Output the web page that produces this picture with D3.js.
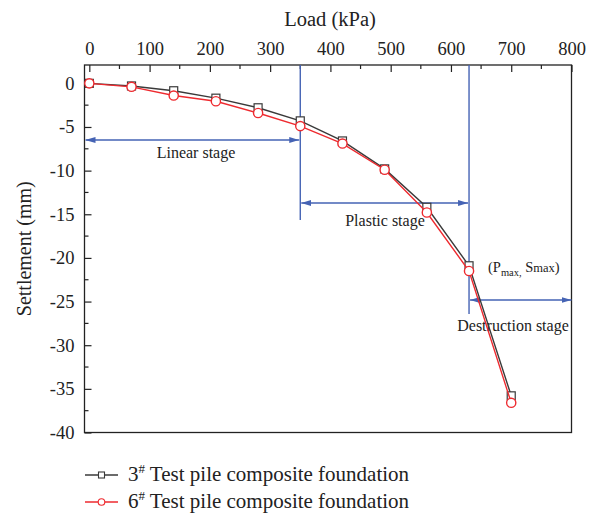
<!DOCTYPE html>
<html>
<head>
<meta charset="utf-8">
<script src="https://cdn.jsdelivr.net/npm/d3@7"></script>
<style>
  html, body { margin: 0; padding: 0; background: #fff; }
  svg { display: block; }
  text { font-family: "Liberation Serif", "DejaVu Serif", serif; fill: #222; }
</style>
</head>
<body>
<svg id="chart" width="597" height="514"></svg>
<script>
// Load steps (kPa) and measured settlement (mm) for the two test piles
const loads = [0, 70, 140, 210, 280, 350, 420, 490, 560, 630, 700];
const pile3 = [0, -0.3, -0.85, -1.7, -2.8, -4.3, -6.6, -9.8, -14.2, -20.9, -35.8];
const pile6 = [0, -0.4, -1.4, -2.05, -3.4, -4.9, -6.9, -9.9, -14.8, -21.5, -36.6];
const xTicks = [0, 100, 200, 300, 400, 500, 600, 700, 800];
const yTicks = [0, -5, -10, -15, -20, -25, -30, -35, -40];
const seriesNames = ["Test pile composite foundation", "Test pile composite foundation"];
const seriesIds = ["3", "6"];
// Stage boundaries (kPa)
const linearEnd = 350;
const plasticEnd = 630;
const stageLabels = ["Linear stage", "Plastic stage", "Destruction stage"];

const svg = d3.select("#chart");
const pLeft = 84.5, pRight = 571.5, pTop = 65, pBottom = 432.5;

const x = d3.scaleLinear().domain([-8, 800]).range([pLeft, pRight]);
const y = d3.scaleLinear().domain([-40, 2.1]).range([pBottom, pTop]);

const blue = "#4563b4";
const red = "#ee2a2f";
const dark = "#3a3a3a";

// arrowhead marker
const defs = svg.append("defs");
defs.append("marker")
  .attr("id", "arrow")
  .attr("viewBox", "0 0 10 6")
  .attr("refX", 10).attr("refY", 3)
  .attr("markerWidth", 10).attr("markerHeight", 6)
  .attr("markerUnits", "userSpaceOnUse")
  .attr("orient", "auto-start-reverse")
  .append("path").attr("d", "M0,0 L10,3 L0,6 Z").attr("fill", blue);

// frame
svg.append("rect")
  .attr("x", pLeft).attr("y", pTop)
  .attr("width", pRight - pLeft).attr("height", pBottom - pTop)
  .attr("fill", "none").attr("stroke", "#222").attr("stroke-width", 1.3);

// plain hyphen for negatives
const fmt = d => String(d);

// top axis, ticks pointing inward
const xAxis = d3.axisTop(x).tickValues(xTicks).tickSize(-7).tickPadding(10).tickFormat(fmt);
const gx = svg.append("g").attr("transform", `translate(0,${pTop})`).call(xAxis);
gx.select(".domain").remove();
gx.selectAll(".tick line").attr("stroke", "#222").attr("stroke-width", 1.2);
gx.selectAll(".tick text").attr("font-size", 18.5).attr("font-family", "Liberation Serif").attr("fill", "#222").attr("dy", "0");
const xMinor = d3.range(50, 800, 100);
svg.append("g").selectAll("line").data(xMinor).join("line")
  .attr("x1", d => x(d)).attr("x2", d => x(d))
  .attr("y1", pTop).attr("y2", pTop + 4)
  .attr("stroke", "#222").attr("stroke-width", 1.2);

// left axis, ticks pointing inward
const yAxis = d3.axisLeft(y).tickValues(yTicks).tickSize(-7).tickPadding(10).tickFormat(fmt);
const gy = svg.append("g").attr("transform", `translate(${pLeft},0)`).call(yAxis);
gy.select(".domain").remove();
gy.selectAll(".tick line").attr("stroke", "#222").attr("stroke-width", 1.2);
gy.selectAll(".tick text").attr("font-size", 18.5).attr("font-family", "Liberation Serif").attr("fill", "#222");
const yMinor = d3.range(-37.5, 0, 5);
svg.append("g").selectAll("line").data(yMinor).join("line")
  .attr("x1", pLeft).attr("x2", pLeft + 4)
  .attr("y1", d => y(d)).attr("y2", d => y(d))
  .attr("stroke", "#222").attr("stroke-width", 1.2);

// axis titles
svg.append("text").attr("x", 330).attr("y", 26)
  .attr("text-anchor", "middle").attr("font-size", 20.5).text("Load (kPa)");
svg.append("text")
  .attr("transform", `translate(31,${(pTop + pBottom) / 2}) rotate(-90)`)
  .attr("text-anchor", "middle").attr("font-size", 20).text("Settlement (mm)");

// stage boundaries
svg.append("line").attr("x1", x(linearEnd)).attr("x2", x(linearEnd))
  .attr("y1", pTop).attr("y2", 220).attr("stroke", blue).attr("stroke-width", 1.4);
svg.append("line").attr("x1", x(plasticEnd)).attr("x2", x(plasticEnd))
  .attr("y1", pTop).attr("y2", 314).attr("stroke", blue).attr("stroke-width", 1.4);

// stage arrows
function dblArrow(x1, x2, yy) {
  svg.append("line").attr("x1", x1).attr("x2", x2).attr("y1", yy).attr("y2", yy)
    .attr("stroke", blue).attr("stroke-width", 1.4)
    .attr("marker-start", "url(#arrow)").attr("marker-end", "url(#arrow)");
}
dblArrow(pLeft + 1, x(linearEnd) - 1, 140);
dblArrow(x(linearEnd) + 1, x(plasticEnd) - 1, 203);
dblArrow(x(plasticEnd) + 1, pRight, 300);

svg.append("text").attr("x", 196).attr("y", 158).attr("text-anchor", "middle")
  .attr("font-size", 16).text(stageLabels[0]);
svg.append("text").attr("x", 385).attr("y", 226).attr("text-anchor", "middle")
  .attr("font-size", 16).text(stageLabels[1]);
svg.append("text").attr("x", 513).attr("y", 331).attr("text-anchor", "middle")
  .attr("font-size", 16).text(stageLabels[2]);

const pm = svg.append("text").attr("x", 488).attr("y", 272).attr("font-size", 14.5);
pm.append("tspan").text("(P");
pm.append("tspan").attr("font-size", 10.5).attr("dy", 4).text("max,");
pm.append("tspan").attr("dy", -4).text(" S");
pm.append("tspan").attr("font-size", 12.5).text("max");
pm.append("tspan").text(")");

// series lines and markers
const line = d3.line().x(d => x(d[0])).y(d => y(d[1]));
const data3 = loads.map((l, i) => [l, pile3[i]]);
const data6 = loads.map((l, i) => [l, pile6[i]]);

svg.append("path").datum(data3).attr("d", line)
  .attr("fill", "none").attr("stroke", dark).attr("stroke-width", 1.4);
svg.append("g").selectAll("rect").data(data3).join("rect")
  .attr("x", d => x(d[0]) - 4).attr("y", d => y(d[1]) - 4)
  .attr("width", 8).attr("height", 8)
  .attr("fill", "#fff").attr("stroke", dark).attr("stroke-width", 1.2);

svg.append("path").datum(data6).attr("d", line)
  .attr("fill", "none").attr("stroke", red).attr("stroke-width", 1.4);
svg.append("g").selectAll("circle").data(data6).join("circle")
  .attr("cx", d => x(d[0])).attr("cy", d => y(d[1])).attr("r", 4.6)
  .attr("fill", "#fff").attr("stroke", red).attr("stroke-width", 1.4);

// legend
const legendRows = [
  { id: seriesIds[0], name: seriesNames[0], color: dark, shape: "square", y: 475 },
  { id: seriesIds[1], name: seriesNames[1], color: red, shape: "circle", y: 502 }
];
legendRows.forEach(r => {
  const g = svg.append("g");
  g.append("line").attr("x1", 85).attr("x2", 118).attr("y1", r.y).attr("y2", r.y)
    .attr("stroke", r.color).attr("stroke-width", 1.3);
  if (r.shape === "square") {
    g.append("rect").attr("x", 101.5 - 3).attr("y", r.y - 3).attr("width", 6).attr("height", 6)
      .attr("fill", "#fff").attr("stroke", r.color).attr("stroke-width", 1.1);
  } else {
    g.append("circle").attr("cx", 101.5).attr("cy", r.y).attr("r", 3.3)
      .attr("fill", "#fff").attr("stroke", r.color).attr("stroke-width", 1.1);
  }
  const t = g.append("text").attr("x", 128).attr("y", r.y + 6).attr("font-size", 21);
  t.append("tspan").text(r.id);
  t.append("tspan").attr("font-size", 13).attr("dy", -8).text("#");
  t.append("tspan").attr("dy", 8).text(" " + r.name);
});
</script>
</body>
</html>
